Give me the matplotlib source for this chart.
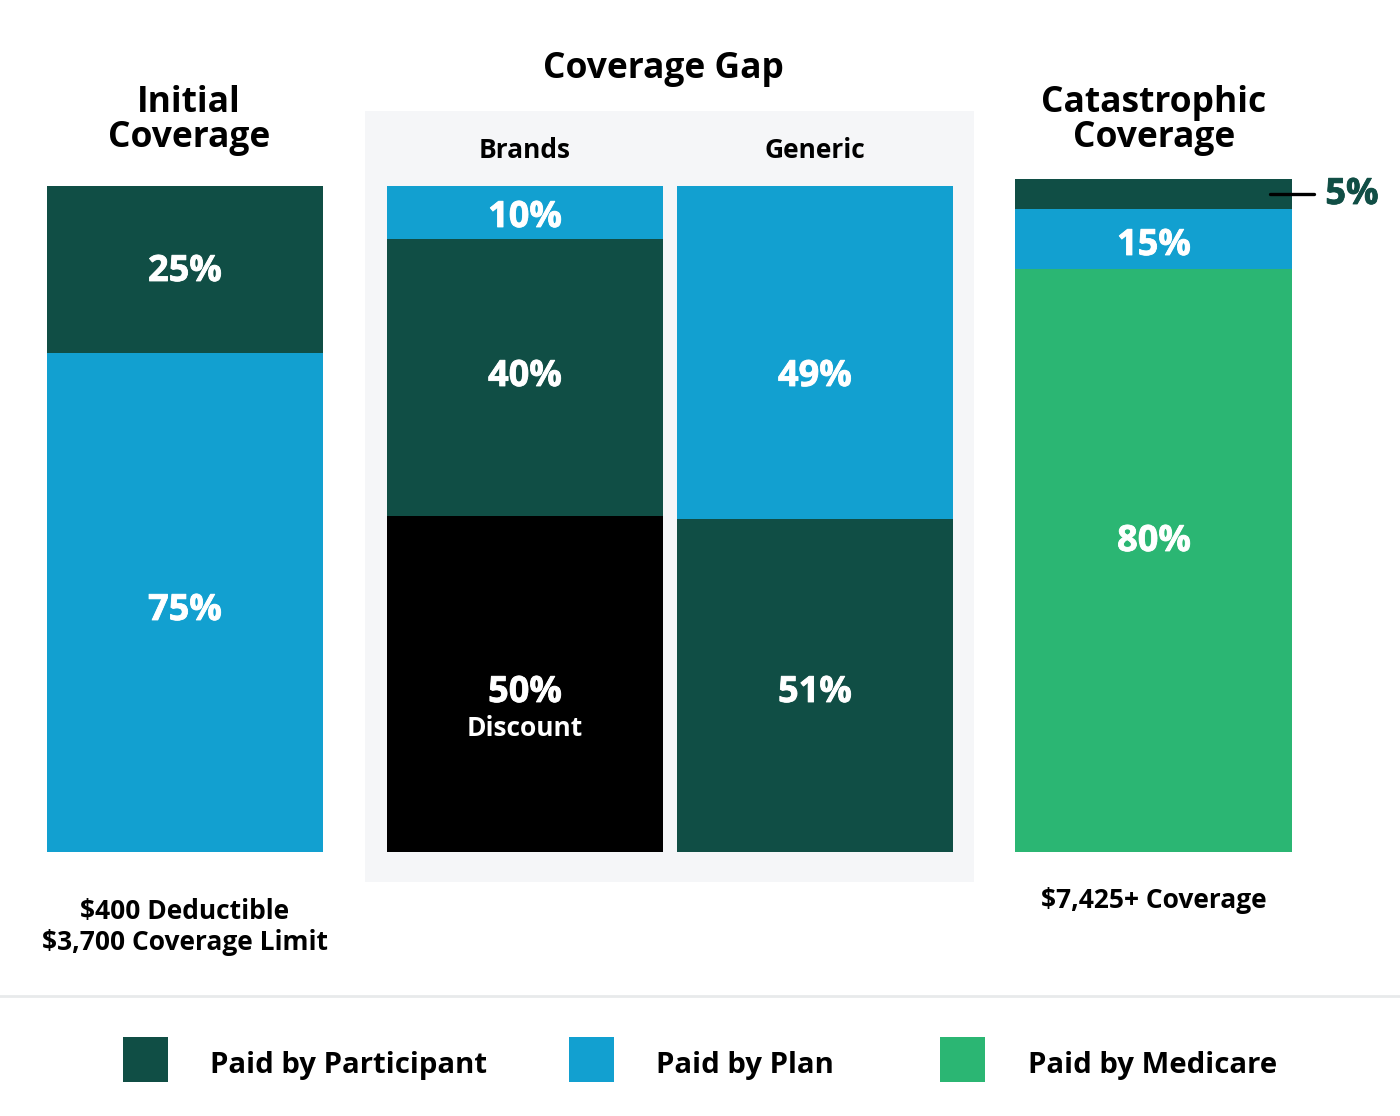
import matplotlib
matplotlib.use("Agg")
import matplotlib.pyplot as plt
import matplotlib.patheffects as pe
from matplotlib.patches import Rectangle

plt.rcParams['font.family'] = ['Open Sans', 'DejaVu Sans']

DARK = '#104e45'
BLUE = '#12a0d0'
GREEN = '#2bb673'
BLACK = '#000000'

# segment heights as drawn in the picture, bottom to top (not the printed labels)
initial_vals = [75, 25]
brands_vals = [50.5, 41.5, 8]
generic_vals = [50, 50]
catastrophic_vals = [86.6, 8.9, 4.5]

initial_colors = [BLUE, DARK]
brands_colors = [BLACK, DARK, BLUE]
generic_colors = [DARK, BLUE]
catastrophic_colors = [GREEN, BLUE, DARK]

# printed labels
initial_labels = ['75%', '25%']
brands_labels = ['50%', '40%', '10%']
generic_labels = ['51%', '49%']
catastrophic_labels = ['80%', '15%']

legend_labels = ['Paid by Participant', 'Paid by Plan', 'Paid by Medicare']
legend_colors = [DARK, BLUE, GREEN]

W, H = 1400, 1116
fig = plt.figure(figsize=(W / 100, H / 100), dpi=100, facecolor='white')

# full figure axes in pixel coords, y down
bg = fig.add_axes([0, 0, 1, 1], zorder=0)
bg.set_xlim(0, W)
bg.set_ylim(H, 0)
bg.axis('off')

top = fig.add_axes([0, 0, 1, 1], zorder=5)
top.set_xlim(0, W)
top.set_ylim(H, 0)
top.axis('off')

bg.add_patch(Rectangle((365, 111), 609, 771, color='#f5f6f8', lw=0))
bg.plot([0, W], [996, 996], color='#e8eaeb', lw=2)


def stack(x0, x1, ytop, vals, colors):
    # axes covering one column, y in percent
    ax = fig.add_axes([x0 / W, 1 - 852 / H, (x1 - x0) / W, (852 - ytop) / H], zorder=2)
    bottom = 0
    for v, c in zip(vals, colors):
        ax.bar(0, v, width=1, bottom=bottom, color=c, linewidth=0)
        bottom += v
    ax.set_xlim(-0.5, 0.5)
    ax.set_ylim(0, 100)
    ax.axis('off')
    return ax


stack(47, 323, 186, initial_vals, initial_colors)
stack(387, 663, 186, brands_vals, brands_colors)
stack(677, 953, 186, generic_vals, generic_colors)
stack(1015, 1292, 179, catastrophic_vals, catastrophic_colors)


def txt(x, y, s, size, weight='bold', color='black'):
    return top.text(x, y, s, fontsize=size, fontweight=weight, color=color,
                    ha='center', va='center')


def pct(x, y, s, color='white'):
    # reference numbers are a bit heavier than Open Sans Bold
    t = txt(x, y, s, 26, 'bold', color)
    t.set_path_effects([pe.withStroke(linewidth=0.6, foreground=color)])


# titles
txt(189, 103, 'Initial', 25.5)
txt(189, 138, 'Coverage', 25.5)
txt(663, 69, 'Coverage Gap', 25.5)
txt(1154, 103, 'Catastrophic', 25.5)
txt(1154, 138, 'Coverage', 25.5)
txt(525, 151, 'Brands', 19)
txt(815, 151, 'Generic', 19)

# percent labels
for s, y in zip(initial_labels, [611, 272]):
    pct(185, y, s)
for s, y in zip(brands_labels, [693, 377, 218]):
    pct(525, y, s)
for s, y in zip(generic_labels, [693, 377]):
    pct(815, y, s)
for s, y in zip(catastrophic_labels, [542, 246]):
    pct(1154, y, s)
txt(525, 728, 'Discount', 19, 'bold', 'white')

# 5% callout
top.plot([1270, 1314], [194, 194], color='black', lw=2.4, solid_capstyle='round')
pct(1352, 195, '5%', DARK)

# notes under bars
txt(185, 911, '$400 Deductible', 19)
txt(185, 943, '$3,700 Coverage Limit', 19)
txt(1154, 900, '$7,425+ Coverage', 19)

# legend
for x, tx, c, s in zip([123, 569, 940], [210, 656, 1028], legend_colors, legend_labels):
    top.add_patch(Rectangle((x, 1037), 45, 45, color=c, lw=0))
    top.text(tx, 1065, s, fontsize=21.2, fontweight='bold', color='black',
             ha='left', va='center')

fig.savefig('out.png', dpi=100)
